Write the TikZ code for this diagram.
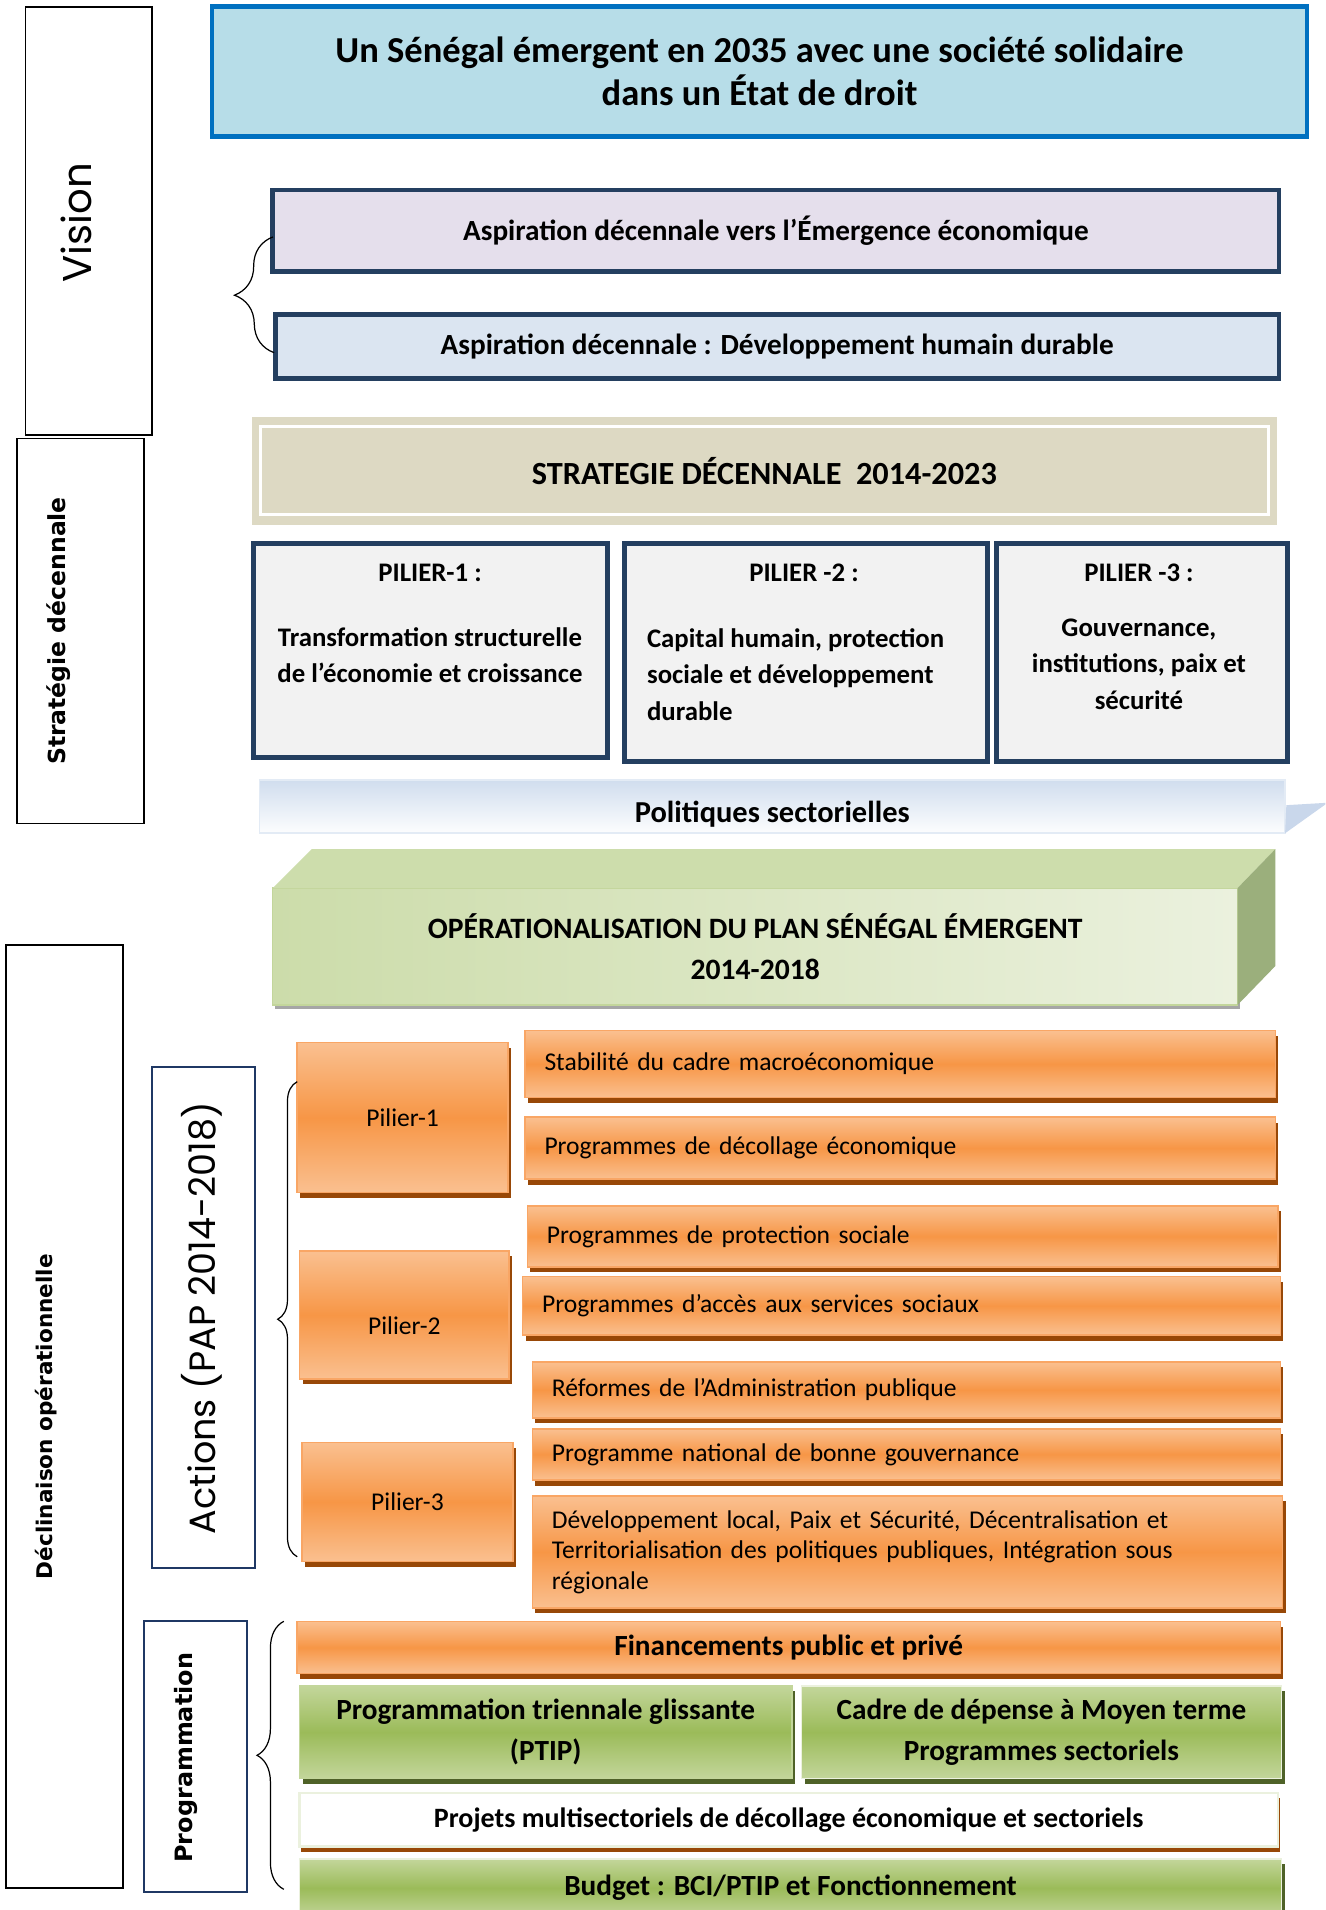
\documentclass[tikz,border=0pt]{standalone}
\usepackage{fontspec}
\setmainfont{Carlito}
\newfontfamily\geofont{Poppins}
\newfontfamily\verdfont{DejaVu Sans}
\usetikzlibrary{shadows,decorations.pathreplacing,calc,backgrounds}
\definecolor{navy}{HTML}{243F60}
\definecolor{tblue}{HTML}{0070C0}
\definecolor{tfill}{HTML}{B7DDE8}
\definecolor{lav}{HTML}{E5DFEC}
\definecolor{pblue}{HTML}{DBE5F1}
\definecolor{stratfill}{HTML}{DDD9C3}
\definecolor{pgray}{HTML}{F2F2F2}
\definecolor{orlight}{HTML}{FAC090}
\definecolor{ormid}{HTML}{F79646}
\definecolor{oredge}{HTML}{F9A665}
\definecolor{orshadow}{HTML}{984807}
\definecolor{grlight}{HTML}{C3D69B}
\definecolor{grmid}{HTML}{9BBB59}
\definecolor{grtop}{HTML}{CDDDAC}
\definecolor{grside}{HTML}{9BAF7C}
\definecolor{grpale}{HTML}{EBF1DE}
\definecolor{olive}{HTML}{4F6228}
\definecolor{labblue}{HTML}{1F3864}
\definecolor{poltop}{HTML}{D0DDEE}
\definecolor{poltri}{HTML}{C9D7EB}
\begin{document}
\begin{tikzpicture}[x=1pt,y=-1pt,
  box/.style={inner sep=0pt, outer sep=0pt, anchor=north west},
  sz/.style 2 args={minimum width=#1pt, minimum height=#2pt},
  navybox/.style={box, draw=navy, line width=4pt},
  labbox/.style={box, draw=black, line width=1.5pt},
  blubox/.style={box, draw=labblue, line width=1.5pt},
  bigbold/.style={font=\fontsize{24}{34}\selectfont\bfseries},
  midbold/.style={font=\fontsize{22}{30}\selectfont\bfseries},
  regtext/.style={font=\fontsize{21}{25}\selectfont},
  orbox/.style={box, draw=oredge, line width=1.2pt, top color=orlight, bottom color=orlight, middle color=ormid,
     drop shadow={shadow xshift=2.5pt, shadow yshift=-4.5pt, fill=orshadow, opacity=1}},
  orprog/.style={orbox, regtext, align=left, inner xsep=16pt},
  grbox/.style={box, draw=grlight, line width=1.2pt, top color=grlight, bottom color=grlight, middle color=grmid,
     drop shadow={shadow xshift=2.5pt, shadow yshift=-4.5pt, fill=olive, opacity=1}},
  rlabel/.style={rotate=90, inner sep=0pt},
  bracestyle/.style={decorate, line width=1pt},
]
\clip (0,0) rectangle (1088,1568);
\fill[white] (0,0) rectangle (1088,1568);

% ---- left labels
\node[labbox, sz={104}{351}] (vis) at (21,6) {};
\node[rlabel, font=\geofont\fontsize{33}{33}\selectfont] (vist) at (63,183) {Vision};
\node[labbox, sz={104}{316}] (strl) at (14,360) {};
\node[rlabel, font=\verdfont\fontsize{19.3}{19}\selectfont\bfseries] (strlt) at (48,518) {Stratégie décennale};
\node[labbox, sz={96}{774}] (decl) at (5,776) {};
\node[rlabel, font=\verdfont\fontsize{17.7}{17}\selectfont\bfseries] (declt) at (38,1163) {Déclinaison opérationnelle};
\node[blubox, sz={84}{411}] (act) at (125,876) {};
\node[rlabel, font=\geofont\fontsize{30}{30}\selectfont] (actt) at (166,1082) {Actions (PAP 2014-2018)};
\node[blubox, sz={85}{222}] (prg) at (118,1331) {};
\node[rlabel, font=\verdfont\fontsize{19.6}{19}\selectfont\bfseries] (prgt) at (153,1443) {Programmation};

% ---- vision
\node[box, sz={899}{107}, draw=tblue, fill=tfill, line width=4pt, align=center,
      font=\fontsize{30}{36}\selectfont\bfseries] (title) at (174,5)
      {Un Sénégal émergent en 2035 avec une société solidaire\\dans un État de droit};
\node[navybox, sz={826}{67}, fill=lav, font=\fontsize{24}{30}\selectfont\bfseries] (asp1) at (224,156) {Aspiration décennale vers l’Émergence économique};
\node[navybox, sz={824}{53}, fill=pblue, font=\fontsize{24}{30}\selectfont\bfseries] (asp2) at (226,258) {Aspiration décennale : Développement humain durable};
\draw[bracestyle, decoration={brace, amplitude=32pt}] ($(asp2.west)+(-1,5)$) -- ($(asp1.west)+(0,5)$);

% ---- strategy
\node[box, sz={841}{89}, fill=stratfill, font=\fontsize{26.5}{26}\selectfont\bfseries] (strat) at (207,342) {STRATEGIE DÉCENNALE\ \ 2014-2023};
\draw[white, line width=2.5pt] ($(strat.north west)+(7,8)$) rectangle ($(strat.south east)+(-7,-9)$);

\node[navybox, sz={291}{176}, fill=pgray] (p1) at (208,446) {};
\node[navybox, sz={298}{179}, fill=pgray] (p2) at (513,446) {};
\node[navybox, sz={239}{179}, fill=pgray] (p3) at (818,446) {};
\node[midbold] (p1h) at (353,470) {PILIER-1 :};
\node[midbold] (p2h) at (660,470) {PILIER -2 :};
\node[midbold] (p3h) at (935,470) {PILIER -3 :};
\node[midbold, align=center, inner sep=0pt] (p1b) at (353,538) {Transformation structurelle\\de l’économie et croissance};
\node[midbold, align=left, anchor=west, inner sep=0pt] (p2b) at (531,553.5) {Capital humain, protection\\sociale et développement\\durable};
\node[midbold, align=center, inner sep=0pt] (p3b) at (935,545) {Gouvernance,\\institutions, paix et\\sécurité};

% ---- politiques
\node[box, sz={842}{44}, top color=poltop, bottom color=white!95!poltop, draw=poltop!60!white, line width=1.5pt] (pol) at (213,640) {};
\node[font=\fontsize{25}{25}\selectfont\bfseries] (polt) at (634,668) {Politiques sectorielles};
\fill[poltri] ($(pol.north east)+(1,21)$) -- ($(pol.north east)+(35,19)$) -- (pol.south east) -- cycle;

% ---- operationalisation 3D box
\node[box, sz={792}{96}, left color=grlight!85!white, right color=grpale, draw=grlight, line width=1pt,
      drop shadow={shadow xshift=2pt, shadow yshift=-3pt, fill=gray!70, opacity=1},
      align=center, font=\fontsize{24.3}{34}\selectfont\bfseries] (ope) at (224,729)
      {OPÉRATIONALISATION DU PLAN SÉNÉGAL ÉMERGENT\\2014-2018};
\fill[grtop] (ope.north west) -- ++(32,-32) -- ($(ope.north east)+(31,-32)$) -- (ope.north east) -- cycle;
\fill[grside] (ope.north east) -- ++(31,-32) -- ($(ope.south east)+(31,-32)$) -- (ope.south east) -- cycle;

% ---- action boxes
\node[orbox, sz={173}{123}, regtext] (pil1) at (244,856) {Pilier-1};
\node[orbox, sz={172}{105}, regtext] (pil2) at (246,1027) {\raisebox{-16pt}[0pt][0pt]{Pilier-2}};
\node[orbox, sz={173}{98}, regtext] (pil3) at (248,1184) {Pilier-3};

\node[orprog, sz={616}{55}, text width=584pt] (stab) at (431,846) {Stabilité du cadre macroéconomique};
\node[orprog, sz={616}{51}, text width=584pt] (deco) at (431,917) {Programmes de décollage économique};
\node[orprog, sz={616}{50}, text width=584pt] (prot) at (433,990) {Programmes de protection sociale};
\node[orprog, sz={622}{48}, text width=590pt] (acces) at (429,1048) {Programmes d’accès aux services sociaux};
\node[orprog, sz={614}{46}, text width=582pt] (ref) at (437,1118) {Réformes de l’Administration publique};
\node[orprog, sz={614}{42}, text width=582pt] (nat) at (437,1173) {Programme national de bonne gouvernance};
\node[orprog, sz={616}{92}, text width=584pt] (dev) at (437,1228) {Développement local, Paix et Sécurité, Décentralisation et\\Territorialisation des politiques publiques, Intégration sous\\régionale};

\draw[bracestyle, decoration={brace, amplitude=16pt}] ($(pil3.south west)+(-4,-4)$) -- ($(pil1.north west)+(0,32)$);

% ---- programmation
\node[orbox, sz={807}{43}, bigbold] (fin) at (244,1331) {Financements public et privé};
\node[grbox, sz={404}{76}, bigbold, align=center] (ptip) at (246,1384) {Programmation triennale glissante\\(PTIP)};
\node[grbox, sz={394}{76}, bigbold, align=center, draw=grpale] (cdmt) at (658,1384) {Cadre de dépense à Moyen terme\\Programmes sectoriels};
\node[box, sz={803}{44}, fill=white, draw=grpale, line width=2pt, font=\fontsize{23}{23}\selectfont\bfseries,
      drop shadow={shadow xshift=1.5pt, shadow yshift=-4pt, fill=orshadow, opacity=1}] (proj) at (246,1472) {Projets multisectoriels de décollage économique et sectoriels};
\node[grbox, sz={806}{48}, bigbold, draw=grpale] (bud) at (246,1526) {Budget : BCI/PTIP et Fonctionnement};
\draw[bracestyle, decoration={brace, amplitude=22pt}] ($(prg.south east)+(30,-2)$) -- ($(fin.north west)+(-11,0)$);

% ---- background: connector line and hidden brace
\coordinate (cx) at (440,0);
\begin{scope}[on background layer]
  \draw[line width=1pt] (cx |- p1.south) -- (cx |- stab.north);
  \draw[bracestyle, decoration={brace, amplitude=9pt}] ($(ref.south west)+(8,6)$) -- ($(prot.south west)+(12,2)$);
\end{scope}
\end{tikzpicture}
\end{document}
